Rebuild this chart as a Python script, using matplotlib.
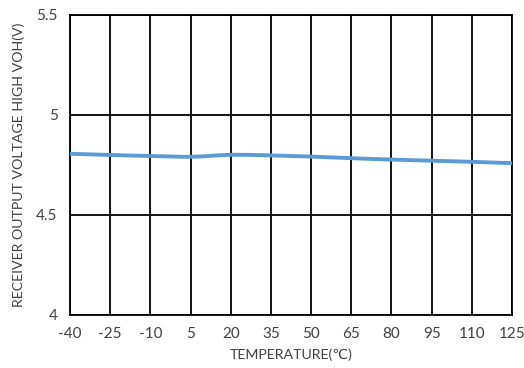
import matplotlib
matplotlib.use("Agg")
import matplotlib.pyplot as plt
import numpy as np

temps = [-40, -25, -10, 5, 20, 35, 50, 65, 80, 95, 110, 125]
voh = [4.806, 4.800, 4.795, 4.791, 4.801, 4.798, 4.792, 4.784, 4.777, 4.772, 4.766, 4.759]
yticks = [4, 4.5, 5, 5.5]
ytick_labels = ["4", "4.5", "5", "5.5"]

plt.rcParams['font.family'] = ['Lato', 'DejaVu Sans']

fig = plt.figure(figsize=(5.24, 3.68), dpi=100)
ax = fig.add_axes([70/524, 1 - 315/368, (512-70)/524, (315-15)/368])

# smooth curve (Catmull-Rom through data points)
x = np.array(temps, dtype=float)
y = np.array(voh, dtype=float)
xs, ys = [], []
for i in range(len(x) - 1):
    p0 = i - 1 if i > 0 else i
    p3 = i + 2 if i + 2 < len(x) else i + 1
    t = np.linspace(0, 1, 20)
    for arr, out in ((x, xs), (y, ys)):
        P0, P1, P2, P3 = arr[p0], arr[i], arr[i + 1], arr[p3]
        seg = 0.5 * ((2 * P1) + (-P0 + P2) * t + (2 * P0 - 5 * P1 + 4 * P2 - P3) * t**2
                     + (-P0 + 3 * P1 - 3 * P2 + P3) * t**3)
        out.extend(seg)
ax.plot(xs, ys, color='#5B9BD5', lw=2.8, solid_capstyle='butt', zorder=3)

ax.set_xlim(-40, 125)
ax.set_ylim(4, 5.5)
ax.set_xticks(temps)
ax.set_xticklabels([str(t) for t in temps])
ax.set_yticks(yticks)
ax.set_yticklabels(ytick_labels)
ax.grid(True, color='black', lw=1.3)
ax.set_axisbelow(True)
for s in ax.spines.values():
    s.set_color('black')
    s.set_linewidth(1.3)
ax.tick_params(length=0, labelsize=11, colors='#404040', pad=9)
ax.set_xlabel('TEMPERATURE(℃)', fontsize=10.2, color='#404040', labelpad=5)
ax.set_ylabel('RECEIVER OUTPUT VOLTAGE HIGH VOH(V)', fontsize=10.2, color='#404040', labelpad=8)

fig.savefig('out.png', dpi=100)
